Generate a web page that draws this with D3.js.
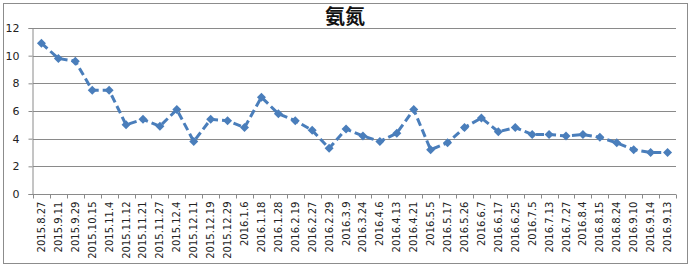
<!DOCTYPE html>
<html><head><meta charset="utf-8">
<script src="https://cdn.jsdelivr.net/npm/d3@7"></script>
<style>body{margin:0;background:#fff}svg{display:block}</style>
</head><body>
<script>
const title = "氨氮";
const categories = ["2015.8.27","2015.9.11","2015.9.29","2015.10.15","2015.11.4","2015.11.12","2015.11.21","2015.11.27","2015.12.4","2015.12.11","2015.12.19","2015.12.29","2016.1.6","2016.1.18","2016.1.28","2016.2.19","2016.2.27","2016.2.29","2016.3.9","2016.3.24","2016.4.6","2016.4.13","2016.4.21","2016.5.5","2016.5.17","2016.5.26","2016.6.7","2016.6.17","2016.6.25","2016.7.5","2016.7.13","2016.7.27","2016.8.4","2016.8.15","2016.8.24","2016.9.10","2016.9.14","2016.9.13"];
const values = [10.9,9.8,9.6,7.5,7.5,5.0,5.4,4.9,6.1,3.8,5.4,5.3,4.8,7.0,5.8,5.3,4.6,3.3,4.7,4.2,3.8,4.4,6.1,3.2,3.7,4.8,5.5,4.5,4.8,4.3,4.3,4.2,4.3,4.1,3.7,3.2,3.0,3.0];
const yTicks = [0,2,4,6,8,10,12];

const W = 692, H = 268;
const m = {left:33, right:16, top:28, bottom:74};
const svg = d3.select("body").append("svg").attr("width",W).attr("height",H);
svg.append("rect").attr("x",3.5).attr("y",3.5).attr("width",684).attr("height",260)
  .attr("fill","#fff").attr("stroke","#8c8c8c").attr("stroke-width",1);

const x = d3.scaleBand().domain(categories).range([m.left, W-m.right]).padding(0);
const y = d3.scaleLinear().domain([0,12]).range([H-m.bottom, m.top]);

// gridlines
svg.append("g").selectAll("line").data(yTicks.filter(d=>d>0)).join("line")
  .attr("x1",m.left).attr("x2",W-m.right)
  .attr("y1",d=>Math.round(y(d))+0.5).attr("y2",d=>Math.round(y(d))+0.5)
  .attr("stroke","#8a8a8a").attr("stroke-width",1);

// y axis
const yAxis = svg.append("g").attr("transform",`translate(${m.left-0.5},0)`)
  .call(d3.axisLeft(y).tickValues(yTicks).tickSize(4).tickPadding(9));
yAxis.select(".domain").attr("stroke","#8a8a8a");
yAxis.selectAll(".tick line").attr("stroke","#8a8a8a");
yAxis.selectAll(".tick text").attr("font-family","DejaVu Sans").attr("font-size",11).attr("fill","#222");

// x axis with ticks at category boundaries
const xg = svg.append("g").attr("transform",`translate(0,${Math.round(y(0))+0.5})`);
xg.append("line").attr("x1",m.left).attr("x2",W-m.right).attr("stroke","#8a8a8a");
const bounds = categories.map(c=>x(c)).concat([x(categories[categories.length-1])+x.bandwidth()]);
xg.selectAll("line.tk").data(bounds).join("line").attr("class","tk")
  .attr("x1",d=>Math.round(d)+0.5).attr("x2",d=>Math.round(d)+0.5).attr("y1",0).attr("y2",4)
  .attr("stroke","#8a8a8a");
xg.selectAll("text").data(categories).join("text")
  .attr("transform",d=>`translate(${x(d)+x.bandwidth()/2+3.5},7) rotate(-90)`)
  .attr("text-anchor","end")
  .attr("font-family","DejaVu Sans").attr("font-size",10).attr("fill","#222")
  .text(d=>d);

// line
const cx = d=>x(d)+x.bandwidth()/2;
const line = d3.line().x((v,i)=>cx(categories[i])).y(v=>y(v));
svg.append("path").datum(values).attr("d",line).attr("fill","none")
  .attr("stroke","#4a7ebb").attr("stroke-width",3).attr("stroke-dasharray","8,4");

// markers
svg.append("g").selectAll("path").data(values).join("path")
  .attr("d","M0,-4.5L4.5,0L0,4.5L-4.5,0Z")
  .attr("transform",(v,i)=>`translate(${cx(categories[i])},${y(v)})`)
  .attr("fill","#4a7ebb");

// title
svg.append("text").attr("x",345).attr("y",24).attr("text-anchor","middle")
  .attr("font-family","Noto Sans CJK SC").attr("font-weight","bold").attr("font-size",20)
  .attr("fill","#111").text(title);
</script>
</body></html>
